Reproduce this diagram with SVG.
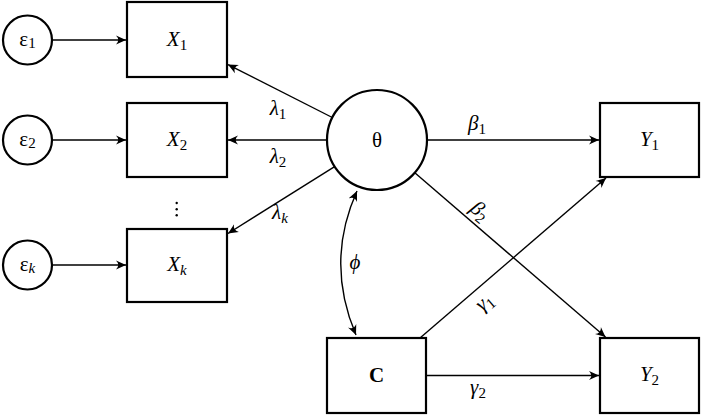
<svg xmlns="http://www.w3.org/2000/svg" width="702" height="416" viewBox="0 0 702 416">
<style>
.box{fill:#fff;stroke:#000;stroke-width:2.2}
.c{fill:#fff;stroke:#000;stroke-width:2.2}
.e{fill:none;stroke:#000;stroke-width:1.4}
text{font-family:"Liberation Serif","Times New Roman",serif;fill:#000;text-anchor:middle}
.lbl{font-size:21px}
.it{font-style:italic}
.sub{font-size:15px;font-style:normal}
.subi{font-size:15px;font-style:italic}
</style>
<defs>
<marker id="ah" viewBox="-10 -5 11 10" refX="0" refY="0" markerWidth="11" markerHeight="10" markerUnits="userSpaceOnUse" orient="auto-start-reverse">
<path d="M0,0 L-10,-4.5 Q-5.5,0 -10,4.5 Z" fill="#000"/>
</marker>
</defs>
<g id="connectors">
<line class="e" x1="52" y1="40" x2="126" y2="40" marker-end="url(#ah)"/>
<line class="e" x1="52" y1="140" x2="126" y2="140" marker-end="url(#ah)"/>
<line class="e" x1="52" y1="265" x2="126" y2="265" marker-end="url(#ah)"/>
<line class="e" x1="332.3" y1="117.5" x2="228" y2="64.6" marker-end="url(#ah)"/>
<line class="e" x1="327" y1="140" x2="228" y2="140" marker-end="url(#ah)"/>
<line class="e" x1="334.6" y1="166.6" x2="228" y2="233.5" marker-end="url(#ah)"/>
<line class="e" x1="427" y1="140" x2="599" y2="140" marker-end="url(#ah)"/>
<line class="e" x1="414.8" y1="172.7" x2="605.5" y2="337" marker-end="url(#ah)"/>
<line class="e" x1="420" y1="338" x2="606" y2="178" marker-end="url(#ah)"/>
<line class="e" x1="426" y1="375.5" x2="599" y2="375.5" marker-end="url(#ah)"/>
<path class="e" d="M357,191 Q325,262 356,335" marker-start="url(#ah)" marker-end="url(#ah)"/>
<text class="lbl it" x="278" y="115">λ<tspan class="sub" dy="4">1</tspan></text>
<text class="lbl it" x="278" y="163">λ<tspan class="sub" dy="4">2</tspan></text>
<text class="lbl it" x="280" y="219">λ<tspan class="subi" dy="4">k</tspan></text>
<text class="lbl it" x="477" y="130">β<tspan class="sub" dy="4">1</tspan></text>
<text class="lbl it" transform="translate(479,212) rotate(40.8)" x="0" y="5">β<tspan class="sub" dy="4">2</tspan></text>
<text class="lbl it" transform="translate(485,303) rotate(-40.8)" x="0" y="5">γ<tspan class="sub" dy="4">1</tspan></text>
<text class="lbl it" x="478" y="394">γ<tspan class="sub" dy="4">2</tspan></text>
<text class="lbl it" x="355" y="269">ϕ</text>
</g>
<g id="e1"><circle class="c" cx="27.5" cy="40" r="24.5"/><text class="lbl" x="27.5" y="46">ε<tspan class="sub" dy="2">1</tspan></text></g>
<g id="e2"><circle class="c" cx="27.5" cy="140" r="24.5"/><text class="lbl" x="27.5" y="146">ε<tspan class="sub" dy="2">2</tspan></text></g>
<g id="ek"><circle class="c" cx="27.5" cy="265" r="24.5"/><text class="lbl" x="27.5" y="271">ε<tspan class="subi" dy="2">k</tspan></text></g>
<g id="X1"><rect class="box" x="127" y="2" width="100" height="75"/><text class="lbl it" x="177" y="46">X<tspan class="sub" dy="4">1</tspan></text></g>
<g id="X2"><rect class="box" x="127" y="103" width="100" height="74"/><text class="lbl it" x="177" y="146">X<tspan class="sub" dy="4">2</tspan></text></g>
<g id="dots"><circle cx="176.7" cy="203" r="1.2"/><circle cx="176.7" cy="209.3" r="1.2"/><circle cx="176.7" cy="215.3" r="1.2"/></g>
<g id="Xk"><rect class="box" x="127" y="229" width="100" height="73"/><text class="lbl it" x="177" y="271">X<tspan class="subi" dy="4">k</tspan></text></g>
<g id="theta"><circle class="c" cx="377" cy="140" r="50"/><text class="lbl" x="377" y="147">θ</text></g>
<g id="Y1"><rect class="box" x="600" y="103" width="99" height="74"/><text class="lbl it" x="649.5" y="146">Y<tspan class="sub" dy="4">1</tspan></text></g>
<g id="Y2"><rect class="box" x="600" y="338" width="99" height="75"/><text class="lbl it" x="649.5" y="381">Y<tspan class="sub" dy="4">2</tspan></text></g>
<g id="C"><rect class="box" x="327" y="338" width="99" height="75"/><text class="lbl" x="376.5" y="382" font-weight="bold">C</text></g>
</svg>
